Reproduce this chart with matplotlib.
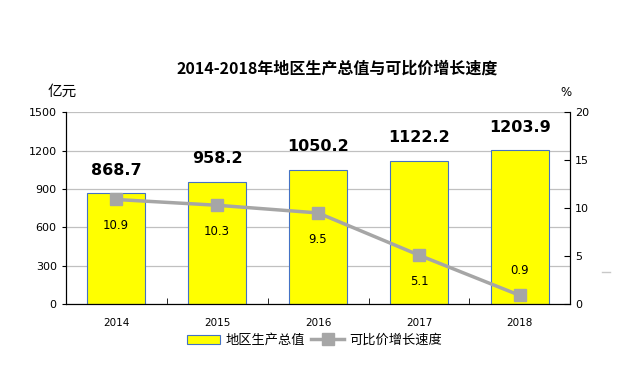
import matplotlib
matplotlib.use("Agg")
import matplotlib.pyplot as plt
from matplotlib.lines import Line2D
import numpy as np

plt.rcParams['font.family'] = ['DejaVu Sans', 'Noto Sans CJK SC']

years = ['2014', '2015', '2016', '2017', '2018']
gdp = [868.7, 958.2, 1050.2, 1122.2, 1203.9]
growth = [10.9, 10.3, 9.5, 5.1, 0.9]

cjk = ['Noto Sans CJK SC', 'DejaVu Sans']

fig = plt.figure(figsize=(6.23, 3.74), dpi=100)
ax = fig.add_axes([0.1055, 0.187, 0.81, 0.513])
x = np.arange(len(years))
bars = ax.bar(x, gdp, width=0.58, color='#FFFF00', edgecolor='#4472C4', linewidth=0.8, zorder=2, label='地区生产总值')
ax.set_ylim(0, 1500)
ax.set_yticks(np.arange(0, 1501, 300))
ax.set_xlim(-0.5, len(years) - 0.5)
ax.set_xticks(x)
ax.set_xticklabels(years, fontsize=7.5)
ax.set_xticks(np.arange(-0.5, len(years), 1), minor=True)
ax.tick_params(axis='x', which='major', length=0, pad=10)
ax.tick_params(axis='x', which='minor', length=4, direction='in')
ax.tick_params(axis='y', labelsize=8, length=3, direction='out')
ax.grid(axis='y', color='#C0C0C0', linewidth=0.9, zorder=0)
ax.set_axisbelow(True)
ax.spines['top'].set_visible(False)
for s in ['left', 'bottom', 'right']:
    ax.spines[s].set_color('black')
for xi, v in zip(x, gdp):
    ax.annotate(f'{v:.1f}', (xi, v), xytext=(0, 11), textcoords='offset points',
                ha='center', va='bottom', fontsize=11.5, fontweight='bold')

ax2 = ax.twinx()
ax2.set_ylim(0, 20)
ax2.set_yticks(np.arange(0, 21, 5))
ax2.tick_params(axis='y', labelsize=8, length=4, direction='in')
ax2.spines['top'].set_visible(False)
line, = ax2.plot(x, growth, color='#A6A6A6', linewidth=2.5, marker='s', markersize=8, zorder=3, label='可比价增长速度')
for xi, v in zip(x, growth):
    off = 18 if v < 2 else -19
    ax2.annotate(f'{v:.1f}', (xi, v), xytext=(0, off), textcoords='offset points',
                 ha='center', va='center', fontsize=8.5)

fig.text(0.1, 0.735, '亿元', fontsize=10.5, ha='center', va='bottom', family=cjk)
fig.text(0.908, 0.735, '%', fontsize=8.5, ha='center', va='bottom')
fig.text(0.541, 0.795, '2014-2018年地区生产总值与可比价增长速度', fontsize=11.5, fontweight='bold',
         ha='center', va='bottom', family=cjk)

fig.add_artist(Line2D([602/623, 610/623], [1-272/374, 1-272/374], color='#C8C8C8', linewidth=1))

leg = fig.legend([bars, line], ['地区生产总值', '可比价增长速度'], loc='center', bbox_to_anchor=(0.505, 0.09),
           ncol=2, frameon=False, prop={'family': cjk, 'size': 9.5}, handlelength=2.5,
           columnspacing=0.5, handletextpad=0.4)

fig.savefig('out.png', dpi=100)
